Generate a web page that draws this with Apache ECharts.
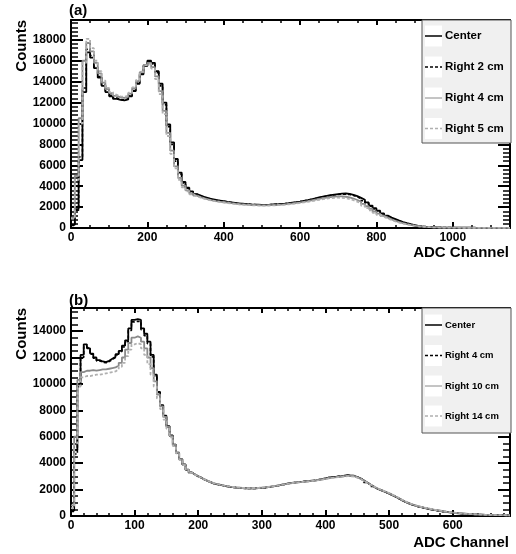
<!DOCTYPE html>
<html>
<head>
<meta charset="utf-8">
<script src="https://cdn.jsdelivr.net/npm/echarts@6/dist/echarts.min.js"></script>
<style>
  html, body { margin: 0; padding: 0; background: #fff; }
  #chart { width: 516px; height: 554px; }
</style>
</head>
<body>
<div id="chart"></div>
<script>
// ---- Panel (a): 10-channel bins starting at channel 0 ----
const binWidthA = 10;
const centerA = [
  300, 1800, 6500, 13000, 16800, 16300, 15300, 14400, 13600, 13000,
  12600, 12350, 12250, 12200, 12300, 12600, 13100, 13800, 14700, 15500,
  16000, 15800, 15000, 13800, 12000, 9900, 8200, 6600, 5300, 4400,
  3850, 3500, 3250, 3100, 2950, 2850, 2750, 2680, 2620, 2560,
  2500, 2450, 2400, 2350, 2320, 2290, 2260, 2240, 2230, 2220,
  2220, 2230, 2250, 2270, 2300, 2330, 2370, 2420, 2470, 2530,
  2600, 2670, 2750, 2830, 2920, 3000, 3070, 3140, 3200, 3250,
  3290, 3300, 3270, 3180, 3050, 2880, 2700, 2450, 2150, 1900,
  1650, 1400, 1180, 1000, 850, 700, 570, 460, 360, 280,
  210, 160, 120, 95, 75, 60, 50, 45, 40, 35,
  30, 30, 28, 26, 25, 22, 20, 20, 18, 16, 15, 14, 12, 12, 10
];
const right2A = [
  250, 1700, 6800, 13400, 17100, 16500, 15400, 14500, 13700, 13100,
  12700, 12450, 12300, 12250, 12350, 12650, 13150, 13850, 14750, 15550,
  15950, 15700, 14850, 13600, 11800, 9700, 8000, 6400, 5150, 4300,
  3800, 3450, 3220, 3070, 2930, 2830, 2740, 2670, 2610, 2550,
  2490, 2440, 2390, 2350, 2310, 2280, 2260, 2240, 2220, 2210,
  2210, 2220, 2240, 2260, 2290, 2320, 2360, 2410, 2460, 2520,
  2590, 2660, 2740, 2820, 2900, 2980, 3050, 3110, 3170, 3210,
  3240, 3240, 3200, 3110, 2980, 2800, 2600, 2350, 2080, 1820,
  1580, 1340, 1120, 950, 800, 660, 540, 430, 340, 260,
  200, 150, 115, 90, 72, 58, 48, 42, 38, 34,
  30, 28, 27, 25, 24, 22, 20, 19, 18, 16, 15, 14, 12, 11, 10
];
const right4A = [
  1000, 5000, 10500, 16000, 17700, 16900, 15800, 14800, 13900, 13300,
  12900, 12650, 12500, 12450, 12550, 12850, 13350, 14050, 14900, 15600,
  15800, 15400, 14500, 13100, 11200, 9100, 7400, 5900, 4800, 4050,
  3600, 3300, 3100, 2950, 2830, 2730, 2650, 2580, 2520, 2470,
  2420, 2370, 2330, 2290, 2260, 2230, 2210, 2190, 2180, 2170,
  2170, 2180, 2190, 2210, 2240, 2270, 2310, 2350, 2400, 2450,
  2510, 2570, 2640, 2710, 2780, 2850, 2910, 2960, 3000, 3020,
  3020, 2990, 2920, 2820, 2680, 2510, 2310, 2080, 1840, 1600,
  1380, 1170, 990, 830, 690, 570, 460, 370, 290, 230,
  180, 140, 110, 85, 68, 55, 46, 40, 36, 32,
  29, 27, 26, 24, 22, 21, 20, 18, 17, 16, 14, 13, 12, 11, 10
];
const right5A = [
  900, 4600, 10000, 15800, 18100, 17200, 16000, 15000, 14100, 13400,
  13000, 12750, 12600, 12550, 12650, 12950, 13450, 14150, 14950, 15550,
  15700, 15250, 14250, 12800, 10900, 8800, 7100, 5700, 4600, 3900,
  3500, 3230, 3040, 2900, 2790, 2700, 2620, 2550, 2490, 2440,
  2390, 2340, 2300, 2260, 2230, 2200, 2180, 2160, 2150, 2140,
  2140, 2150, 2160, 2180, 2200, 2230, 2260, 2300, 2350, 2400,
  2450, 2510, 2570, 2630, 2700, 2760, 2810, 2860, 2890, 2900,
  2890, 2850, 2770, 2660, 2520, 2340, 2130, 1910, 1680, 1460,
  1260, 1070, 900, 760, 630, 520, 420, 340, 270, 210,
  165, 130, 100, 80, 64, 52, 44, 38, 34, 30,
  28, 26, 25, 23, 22, 20, 19, 18, 16, 15, 14, 13, 12, 11, 10
];
const namesA = ['Center', 'Right 2 cm', 'Right 4 cm', 'Right 5 cm'];

// ---- Panel (b): 5-channel bins starting at channel 0 ----
const binWidthB = 5;
const centerB = [
  400, 5000, 10000, 12200, 13000, 12700, 12300, 12000, 11800, 11700,
  11650, 11750, 11900, 12050, 12250, 12500, 12900, 13300, 14200, 14850,
  14900, 14850, 14200, 13800, 13200, 12200, 10700, 9400, 8400, 7600,
  6800, 6100, 5400, 4800, 4300, 3900, 3500, 3300, 3150, 3000,
  2900, 2750, 2650, 2550, 2450, 2400, 2350, 2300, 2250, 2200,
  2180, 2150, 2130, 2110, 2100, 2090, 2090, 2100, 2110, 2120,
  2150, 2180, 2220, 2260, 2300, 2350, 2400, 2450, 2490, 2520,
  2550, 2580, 2600, 2630, 2650, 2680, 2700, 2750, 2800, 2850,
  2900, 2950, 2950, 3000, 3000, 3050, 3100, 3050, 3050, 2950,
  2850, 2700, 2550, 2400, 2250, 2100, 2000, 1900, 1800, 1700,
  1580, 1460, 1340, 1200, 1080, 970, 880, 800, 730, 670,
  610, 560, 510, 460, 420, 380, 340, 310, 280, 250,
  220, 200, 180, 160, 145, 130, 120, 110, 100, 90,
  85, 80, 75, 70, 65, 60, 55, 50
];
const right4B = [
  350, 4700, 9800, 12000, 12800, 12650, 12250, 11950, 11750, 11650,
  11600, 11700, 11850, 12000, 12200, 12450, 12800, 13200, 14050, 14700,
  14750, 14700, 14100, 13650, 13050, 12050, 10600, 9350, 8350, 7550,
  6750, 6050, 5350, 4780, 4280, 3880, 3500, 3280, 3130, 2990,
  2880, 2760, 2640, 2550, 2460, 2390, 2340, 2290, 2250, 2210,
  2170, 2150, 2120, 2110, 2090, 2090, 2080, 2090, 2110, 2130,
  2140, 2190, 2210, 2270, 2290, 2360, 2390, 2440, 2500, 2510,
  2560, 2570, 2610, 2620, 2660, 2670, 2720, 2740, 2810, 2840,
  2910, 2930, 2960, 2990, 3010, 3040, 3080, 3060, 3030, 2960,
  2840, 2710, 2540, 2410, 2240, 2110, 1990, 1910, 1790, 1710,
  1570, 1470, 1330, 1210, 1070, 980, 870, 810, 720, 680,
  600, 570, 500, 470, 410, 390, 330, 320, 270, 260,
  210, 205, 175, 165, 140, 135, 115, 112, 98, 92,
  82, 81, 73, 71, 63, 61, 53, 51
];
const right10B = [
  800, 6000, 10300, 10900, 11000, 11000, 11050, 11000, 11050, 11100,
  11100, 11150, 11200, 11250, 11400, 11600, 12000, 12600, 13100, 13500,
  13600, 13500, 13200, 12700, 12000, 11200, 10200, 9200, 8300, 7500,
  6750, 6050, 5400, 4800, 4300, 3900, 3520, 3300, 3150, 3010,
  2900, 2770, 2660, 2560, 2470, 2410, 2350, 2300, 2260, 2220,
  2190, 2160, 2140, 2120, 2110, 2100, 2100, 2110, 2120, 2140,
  2160, 2190, 2230, 2270, 2310, 2350, 2400, 2440, 2480, 2510,
  2540, 2570, 2590, 2620, 2640, 2670, 2690, 2730, 2780, 2820,
  2870, 2910, 2930, 2970, 2980, 3020, 3050, 3030, 3020, 2930,
  2830, 2690, 2550, 2400, 2260, 2120, 2020, 1920, 1820, 1720,
  1600, 1480, 1360, 1220, 1100, 990, 900, 820, 750, 690,
  630, 580, 530, 480, 440, 400, 360, 320, 290, 260,
  230, 210, 190, 170, 150, 135, 125, 115, 105, 95,
  88, 82, 77, 72, 67, 62, 57, 52
];
const right14B = [
  600, 5500, 9800, 10500, 10600, 10600, 10650, 10700, 10700, 10750,
  10800, 10850, 10900, 10950, 11100, 11300, 11600, 12100, 12600, 13000,
  13100, 13000, 12700, 12200, 11500, 10700, 9800, 8900, 8100, 7300,
  6600, 5950, 5300, 4750, 4250, 3850, 3480, 3270, 3120, 2990,
  2880, 2760, 2650, 2560, 2470, 2410, 2360, 2310, 2260, 2230,
  2200, 2170, 2150, 2130, 2120, 2110, 2110, 2120, 2130, 2150,
  2170, 2200, 2240, 2280, 2320, 2360, 2400, 2440, 2480, 2510,
  2530, 2560, 2590, 2610, 2630, 2660, 2690, 2720, 2760, 2800,
  2850, 2890, 2920, 2950, 2970, 3000, 3020, 3010, 2990, 2910,
  2810, 2680, 2540, 2400, 2270, 2140, 2030, 1930, 1830, 1740,
  1620, 1500, 1380, 1240, 1120, 1010, 910, 830, 760, 700,
  640, 590, 540, 490, 450, 410, 370, 330, 300, 270,
  240, 215, 195, 175, 155, 140, 128, 118, 108, 98,
  90, 84, 78, 73, 68, 63, 58, 53
];
const namesB = ['Center', 'Right 4 cm', 'Right 10 cm', 'Right 14 cm'];

// Axis ranges
const xMaxA = 1150, yMaxA = 19900;
const xMaxB = 690, yMaxB = 15750;

// Line styles shared by the histograms and the legend keys
const styles = [
  { color: '#000000', width: 1.8, type: 'solid' },
  { color: '#000000', width: 1.6, type: [3, 2] },
  { color: '#8a8a8a', width: 1.8, type: 'solid' },
  { color: '#b0b0b0', width: 1.8, type: [3, 2] }
];

const FONT = '"Liberation Sans", Arial, Helvetica, sans-serif';

// Turn bin contents into step points (left edge of each bin, plus the closing edge)
function toSteps(values, width) {
  const pts = values.map((v, i) => [i * width, v]);
  pts.push([values.length * width, values[values.length - 1]]);
  return pts;
}

const plainNumber = v => String(Math.round(v));

function xAxisDef(gridIndex, max, interval, minorSplit, position) {
  const bottom = position === 'bottom';
  return {
    type: 'value', gridIndex, position, min: 0, max, interval,
    axisLine: { show: true, onZero: false, lineStyle: { color: '#000', width: 2 } },
    axisTick: { show: true, inside: true, length: bottom ? 6 : 5, lineStyle: { color: '#000', width: 2 } },
    minorTick: { show: true, splitNumber: minorSplit, length: 3, lineStyle: { color: '#000', width: 1.5 } },
    axisLabel: {
      show: bottom, showMaxLabel: false, margin: 4, formatter: plainNumber,
      color: '#000', fontFamily: FONT, fontWeight: 'bold', fontSize: 12
    },
    splitLine: { show: false }, minorSplitLine: { show: false }
  };
}

function yAxisDef(gridIndex, max, interval, minorSplit, position) {
  const left = position === 'left';
  return {
    type: 'value', gridIndex, position, min: 0, max, interval,
    axisLine: { show: true, onZero: false, lineStyle: { color: '#000', width: 2 } },
    axisTick: { show: true, inside: true, length: 12, lineStyle: { color: '#000', width: 2 } },
    minorTick: { show: true, splitNumber: minorSplit, length: 7, lineStyle: { color: '#000', width: 1.5 } },
    axisLabel: {
      show: left, showMaxLabel: false, margin: 5, formatter: plainNumber,
      color: '#000', fontFamily: FONT, fontWeight: 'bold', fontSize: 12
    },
    splitLine: { show: false }, minorSplitLine: { show: false }
  };
}

function histSeries(name, values, width, axisIdx, k) {
  const s = styles[k];
  return {
    name, type: 'line', step: 'end',
    xAxisIndex: axisIdx, yAxisIndex: axisIdx,
    data: toSteps(values, width),
    showSymbol: false, symbol: 'none', silent: true, clip: true,
    lineStyle: { color: s.color, width: s.width, type: s.type },
    z: 2 + k
  };
}

// Legend box drawn at the top-right corner of a panel
function legendBox(top, bottom, names, rowYs, fontSize) {
  const els = [{
    type: 'rect', z: 100,
    shape: { x: 422, y: top, width: 89, height: bottom - top },
    style: { fill: '#f0f0f0', stroke: '#555', lineWidth: 1 }
  }];
  names.forEach((n, k) => {
    const y = rowYs[k];
    const s = styles[k];
    els.push({
      type: 'rect', z: 101,
      shape: { x: 425, y: y - 10.5, width: 17, height: 21 },
      style: { fill: '#ffffff' }
    });
    els.push({
      type: 'line', z: 102,
      shape: { x1: 425, y1: y, x2: 442, y2: y },
      style: {
        stroke: s.color, lineWidth: k === 2 ? 1 : 1.5,
        lineDash: Array.isArray(s.type) ? s.type : null
      }
    });
    els.push({
      type: 'text', z: 102, x: 445, y: y,
      style: {
        text: n, fill: '#000', font: 'bold ' + fontSize + 'px ' + FONT,
        textAlign: 'left', textVerticalAlign: 'middle'
      }
    });
  });
  return els;
}

function titleText(text, x, y, opts) {
  return {
    type: 'text', z: 50, x, y,
    style: Object.assign({
      text, fill: '#000', font: 'bold 15px ' + FONT,
      textAlign: 'left', textVerticalAlign: 'middle'
    }, opts || {})
  };
}

const chart = echarts.init(document.getElementById('chart'), null, { renderer: 'canvas' });

const seriesA = [centerA, right2A, right4A, right5A].map((v, k) => histSeries(namesA[k], v, binWidthA, 0, k));
const seriesB = [centerB, right4B, right10B, right14B].map((v, k) => histSeries(namesB[k], v, binWidthB, 2, k));

chart.setOption({
  animation: false,
  backgroundColor: '#ffffff',
  grid: [
    { left: 71, top: 20, width: 439, height: 208 },
    { left: 71, top: 308, width: 439, height: 208 }
  ],
  xAxis: [
    xAxisDef(0, xMaxA, 200, 4, 'bottom'),
    xAxisDef(0, xMaxA, 200, 4, 'top'),
    xAxisDef(1, xMaxB, 100, 5, 'bottom'),
    xAxisDef(1, xMaxB, 100, 5, 'top')
  ],
  yAxis: [
    yAxisDef(0, yMaxA, 2000, 5, 'left'),
    yAxisDef(0, yMaxA, 2000, 5, 'right'),
    yAxisDef(1, yMaxB, 2000, 4, 'left'),
    yAxisDef(1, yMaxB, 2000, 4, 'right')
  ],
  series: seriesA.concat(seriesB),
  graphic: [
    titleText('(a)', 69, 11),
    titleText('(b)', 69, 301),
    titleText('ADC Channel', 509, 253, { textAlign: 'right' }),
    titleText('ADC Channel', 509, 543, { textAlign: 'right' }),
    Object.assign(titleText('Counts', 22, 20, { textAlign: 'right' }), { rotation: Math.PI / 2 }),
    Object.assign(titleText('Counts', 22, 308, { textAlign: 'right' }), { rotation: Math.PI / 2 })
  ]
    .concat(legendBox(20, 143, namesA, [36, 67, 98, 128.5], 11.5))
    .concat(legendBox(308, 433, namesB, [325, 355.5, 386, 416], 9.5))
});
</script>
</body>
</html>
